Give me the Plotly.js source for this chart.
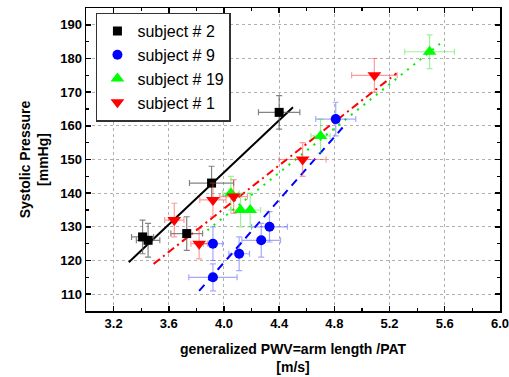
<!DOCTYPE html>
<html><head><meta charset="utf-8">
<script src="https://cdn.plot.ly/plotly-3.0.1.min.js"></script>
<style>html,body{margin:0;padding:0;background:#fff}#chart{width:509px;height:377px}</style>
</head><body><div id="chart"></div>
<script>
// subject # 2
const s2x = [3.41, 3.45, 3.73, 3.91, 4.40];
const s2y = [127, 126, 128, 143, 164];
const s2ex = [0.08, 0.085, 0.115, 0.16, 0.15];
const s2ey = [5, 5, 5, 5, 5];
const s2fitX = [3.31, 4.50];
const s2fitY = [119.5, 165.5];
// subject # 9
const s9x = [3.92, 4.11, 3.92, 4.27, 4.33, 4.81];
const s9y = [125, 122, 115, 126, 130, 162];
const s9ex = [0.07, 0.075, 0.175, 0.14, 0.13, 0.145];
const s9ey = [5, 5, 4, 5, 4.5, 5];
const s9fitX = [3.82, 4.86];
const s9fitY = [111, 159.5];
// subject # 19
const s19x = [4.05, 4.12, 4.19, 4.70, 5.49];
const s19y = [140, 135, 135, 157, 182];
const s19ex = [0.06, 0.07, 0.075, 0.07, 0.18];
const s19ey = [5, 5, 5, 5, 5];
const s19fitX = [3.88, 5.60];
const s19fitY = [129, 185.5];
// subject # 1
const s1x = [3.64, 3.82, 3.92, 4.07, 4.57, 5.09];
const s1y = [132, 125, 138, 139, 150, 175];
const s1ex = [0.07, 0.06, 0.095, 0.1, 0.17, 0.165];
const s1ey = [5, 4.5, 5, 5, 5, 5];
const s1fitX = [3.49, 5.25];
const s1fitY = [119, 175.6];

const names = ['subject # 2', 'subject # 9', 'subject # 19', 'subject # 1'];

function pts(x, y, ex, ey, name, color, ecolor, symbol, size) {
  return {
    x: x, y: y, type: 'scatter', mode: 'markers', name: name,
    marker: {color: color, symbol: symbol, size: size, line: {width: 0}},
    error_x: {type: 'data', array: ex, visible: true, color: ecolor, thickness: 1.2, width: 3},
    error_y: {type: 'data', array: ey, visible: true, color: ecolor, thickness: 1.2, width: 3}
  };
}
function fit(x, y, color, dash) {
  return {x: x, y: y, type: 'scatter', mode: 'lines', showlegend: false, hoverinfo: 'skip',
    line: {color: color, width: 2, dash: dash}};
}

const data = [
  fit(s2fitX, s2fitY, '#000000', 'solid'),
  fit(s9fitX, s9fitY, '#0000ff', '8px,6px'),
  fit(s19fitX, s19fitY, '#00ee00', '2px,6px'),
  fit(s1fitX, s1fitY, '#ff0000', '8px,4px,2px,4px'),
  pts(s2x, s2y, s2ex, s2ey, names[0], '#000000', 'rgba(90,90,90,0.75)', 'square', 9),
  pts(s9x, s9y, s9ex, s9ey, names[1], '#0000ff', 'rgba(80,80,255,0.5)', 'circle', 10),
  pts(s19x, s19y, s19ex, s19ey, names[2], '#00ff00', 'rgba(60,230,60,0.5)', 'triangle-up', 12),
  pts(s1x, s1y, s1ex, s1ey, names[3], '#ff0000', 'rgba(255,60,60,0.5)', 'triangle-down', 12)
];

const FF = 'Liberation Sans, Arial, sans-serif';
const axisCommon = {
  showline: true, linecolor: '#000', linewidth: 1.5, mirror: 'allticks',
  ticks: 'inside', ticklen: 5, tickwidth: 1.5, tickcolor: '#000',
  showgrid: true, gridcolor: '#b0b0b0', griddash: 'dot', gridwidth: 1,
  zeroline: false,
  tickfont: {family: FF, size: 13, color: '#000', weight: 'bold'}
};

const layout = {
  width: 509, height: 377,
  margin: {l: 86, r: 9, t: 8, b: 66},
  paper_bgcolor: '#fff', plot_bgcolor: '#fff',
  font: {family: FF, color: '#000'},
  xaxis: Object.assign({}, axisCommon, {
    range: [3.0, 6.0005], tick0: 3.2, dtick: 0.4, tickformat: '.1f',
    minor: {dtick: 0.2, tick0: 3.0, ticks: 'inside', ticklen: 3, tickwidth: 1.2, tickcolor: '#000', showgrid: false},
    title: {text: '<b>generalized PWV=arm length /PAT</b><br><b>[m/s]</b>', standoff: 14,
      font: {size: 14, family: FF, color: '#000'}}
  }),
  yaxis: Object.assign({}, axisCommon, {
    range: [105, 195], tick0: 110, dtick: 10,
    minor: {dtick: 5, tick0: 105, ticks: 'inside', ticklen: 3, tickwidth: 1.2, tickcolor: '#000', showgrid: false},
    title: {text: '<b>Systolic Pressure</b><br><b>[mmHg]</b>', standoff: 8,
      font: {size: 14, family: FF, color: '#000'}}
  }),
  legend: {
    x: 0.024, y: 0.985, xanchor: 'left', yanchor: 'top',
    bgcolor: '#fff', bordercolor: '#333', borderwidth: 1.5,
    font: {size: 16, family: FF, color: '#000'},
    tracegroupgap: 0, itemwidth: 30
  },
  showlegend: true
};

Plotly.newPlot('chart', data, layout, {displayModeBar: false, staticPlot: true});
</script>
</body></html>
